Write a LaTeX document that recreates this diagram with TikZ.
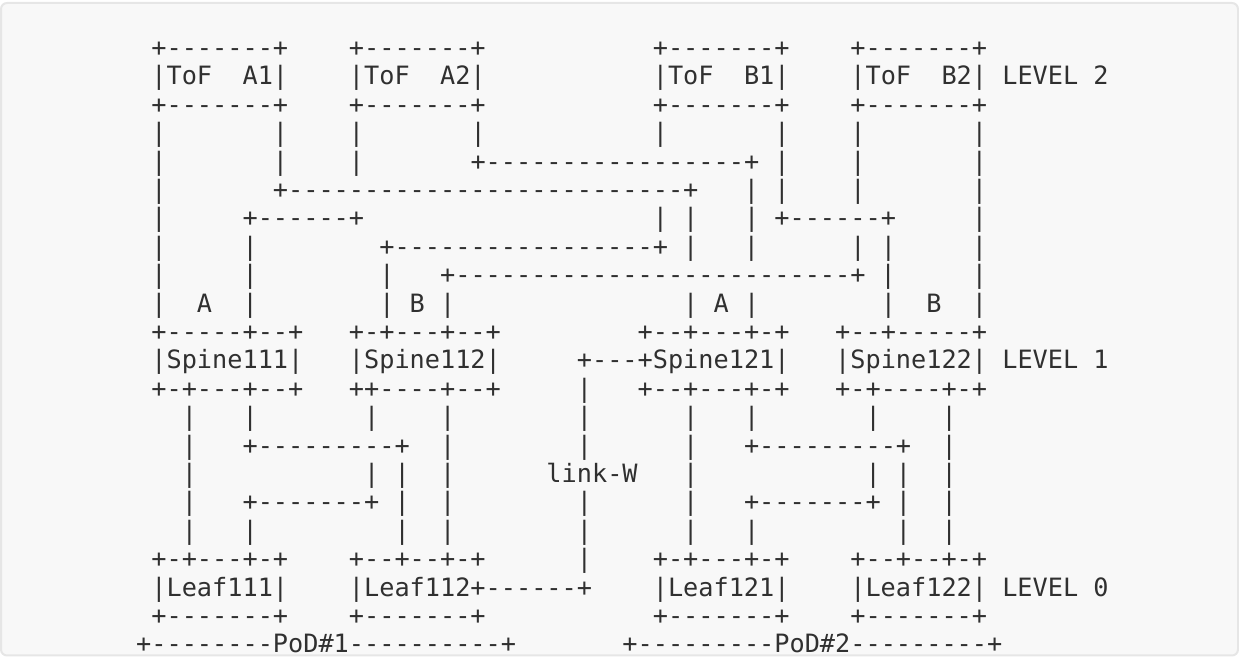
\documentclass[tikz,border=0pt]{standalone}
\usepackage{fontspec}
\setmonofont{DejaVu Sans Mono}
\definecolor{inkgray}{HTML}{303030}
\definecolor{codebg}{HTML}{F8F8F8}
\definecolor{codeframe}{HTML}{E6E6E6}

\begin{document}
\begin{tikzpicture}[
        x=0.5pt, y=-0.5pt,
        ascii/.style = {anchor=base west, inner sep=0pt, outer sep=0pt,
                        text=inkgray,
                        font=\ttfamily\fontsize{12.62}{14}\selectfont},
        ]
        \useasboundingbox (0,0) rectangle (1239,657);
        \draw [codeframe, fill=codebg, line width=1pt, rounded corners=3pt]
            (1,3) rectangle (1238,655.5);
        % LEVEL 2: top of fabric
        \node [ascii] (row0)  at (151.4,56.6)  {+-------+~~~~+-------+~~~~~~~~~~~+-------+~~~~+-------+};
        \node [ascii] (row1)  at (151.4,85.0)  {|ToF~~A1|~~~~|ToF~~A2|~~~~~~~~~~~|ToF~~B1|~~~~|ToF~~B2|~LEVEL~2};
        \node [ascii] (row2)  at (151.4,113.4) {+-------+~~~~+-------+~~~~~~~~~~~+-------+~~~~+-------+};
        % links between ToF and spines
        \node [ascii] (row3)  at (151.4,141.8) {|~~~~~~~|~~~~|~~~~~~~|~~~~~~~~~~~|~~~~~~~|~~~~|~~~~~~~|};
        \node [ascii] (row4)  at (151.4,170.2) {|~~~~~~~|~~~~|~~~~~~~+-----------------+~|~~~~|~~~~~~~|};
        \node [ascii] (row5)  at (151.4,198.6) {|~~~~~~~+--------------------------+~~~|~|~~~~|~~~~~~~|};
        \node [ascii] (row6)  at (151.4,227.0) {|~~~~~+------+~~~~~~~~~~~~~~~~~~~|~|~~~|~+------+~~~~~|};
        \node [ascii] (row7)  at (151.4,255.4) {|~~~~~|~~~~~~~~+-----------------+~|~~~|~~~~~~|~|~~~~~|};
        \node [ascii] (row8)  at (151.4,283.8) {|~~~~~|~~~~~~~~|~~~+--------------------------+~|~~~~~|};
        \node [ascii] (row9)  at (151.4,312.2) {|~~A~~|~~~~~~~~|~B~|~~~~~~~~~~~~~~~|~A~|~~~~~~~~|~~B~~|};
        % LEVEL 1: spines
        \node [ascii] (row10) at (151.4,340.6) {+-----+--+~~~+-+---+--+~~~~~~~~~+--+---+-+~~~+--+-----+};
        \node [ascii] (row11) at (151.4,369.0) {|Spine111|~~~|Spine112|~~~~~+---+Spine121|~~~|Spine122|~LEVEL~1};
        \node [ascii] (row12) at (151.4,397.4) {+-+---+--+~~~++----+--+~~~~~|~~~+--+---+-+~~~+-+----+-+};
        % links between spines and leaves
        \node [ascii] (row13) at (151.4,425.8) {~~|~~~|~~~~~~~|~~~~|~~~~~~~~|~~~~~~|~~~|~~~~~~~|~~~~|};
        \node [ascii] (row14) at (151.4,454.2) {~~|~~~+---------+~~|~~~~~~~~|~~~~~~|~~~+---------+~~|};
        \node [ascii] (row15) at (151.4,482.6) {~~|~~~~~~~~~~~|~|~~|~~~~~~link-W~~~|~~~~~~~~~~~|~|~~|};
        \node [ascii] (row16) at (151.4,511.0) {~~|~~~+-------+~|~~|~~~~~~~~|~~~~~~|~~~+-------+~|~~|};
        \node [ascii] (row17) at (151.4,539.4) {~~|~~~|~~~~~~~~~|~~|~~~~~~~~|~~~~~~|~~~|~~~~~~~~~|~~|};
        % LEVEL 0: leaves
        \node [ascii] (row18) at (151.4,567.8) {+-+---+-+~~~~+--+--+-+~~~~~~|~~~~+-+---+-+~~~~+--+--+-+};
        \node [ascii] (row19) at (151.4,596.2) {|Leaf111|~~~~|Leaf112+------+~~~~|Leaf121|~~~~|Leaf122|~LEVEL~0};
        \node [ascii] (row20) at (151.4,624.6) {+-------+~~~~+-------+~~~~~~~~~~~+-------+~~~~+-------+};
        % PoDs
        \node [ascii] (row21) at (136.2,652.4) {+--------PoD\#1----------+~~~~~~~+---------PoD\#2---------+};
    \end{tikzpicture}
\end{document}
